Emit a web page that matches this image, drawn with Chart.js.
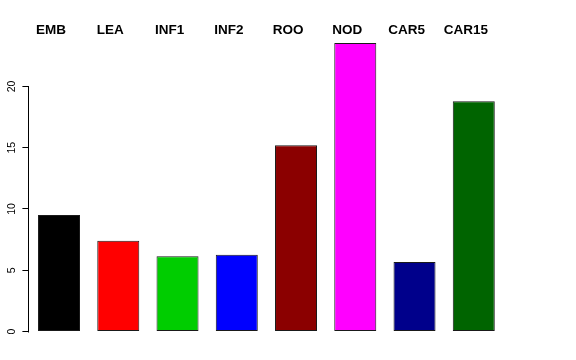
<!DOCTYPE html>
<html>
<head>
<meta charset="utf-8">
<script src="https://cdn.jsdelivr.net/npm/chart.js@4/dist/chart.umd.min.js"></script>
<style>
  html, body { margin: 0; padding: 0; background: #fff; }
  #wrap { width: 576px; height: 360px; }
</style>
</head>
<body>
<div id="wrap"><canvas id="c" width="576" height="360"></canvas></div>
<script>
const categories = ['EMB', 'LEA', 'INF1', 'INF2', 'ROO', 'NOD', 'CAR5', 'CAR15'];
const values = [9.5, 7.4, 6.15, 6.27, 15.2, 23.55, 5.67, 18.8];
const barColors = ['#000000', '#FF0000', '#00CD00', '#0000FF', '#8B0000', '#FF00FF', '#00008B', '#006400'];
const yTicks = [0, 5, 10, 15, 20];

const FONT = '"Liberation Sans", Arial, Helvetica, sans-serif';

const axisLine = {
  id: 'axisLine',
  afterDraw(chart) {
    const y = chart.scales.y;
    const ctx = chart.ctx;
    const x = Math.round(y.right) - 0.5;
    ctx.save();
    ctx.strokeStyle = '#000';
    ctx.lineWidth = 1;
    ctx.beginPath();
    ctx.moveTo(x, Math.round(y.getPixelForValue(yTicks[0])) + 0.5);
    ctx.lineTo(x, Math.round(y.getPixelForValue(yTicks[yTicks.length - 1])) + 0.5);
    ctx.stroke();
    ctx.restore();
  }
};

new Chart(document.getElementById('c'), {
  type: 'bar',
  data: {
    labels: categories,
    datasets: [{
      data: values,
      backgroundColor: barColors,
      borderColor: '#1a1a1a',
      borderWidth: 1,
      borderSkipped: false,
      categoryPercentage: 1,
      barPercentage: 0.709
    }]
  },
  options: {
    responsive: false,
    animation: false,
    devicePixelRatio: 1,
    layout: { padding: { left: 0, right: 72.6, top: 0, bottom: 28.5 } },
    plugins: { legend: { display: false }, tooltip: { enabled: false } },
    scales: {
      x: {
        position: 'top',
        offset: true,
        grid: { display: false, drawTicks: false },
        border: { display: false },
        ticks: {
          color: '#000',
          font: { family: FONT, size: 13.5, weight: 'bold' },
          labelOffset: -8,
          padding: -2,
          maxRotation: 0,
          minRotation: 0
        },
        afterFit(scale) { scale.height = 36; }
      },
      y: {
        min: 0,
        max: 24.12,
        afterBuildTicks(scale) { scale.ticks = yTicks.map(v => ({ value: v })); },
        grid: { drawOnChartArea: false, drawTicks: true, tickLength: 7, color: '#000', lineWidth: 1 },
        border: { display: false },
        ticks: {
          color: '#000',
          font: { family: FONT, size: 10.5 },
          minRotation: 90,
          maxRotation: 90,
          crossAlign: 'center',
          padding: 4.5
        },
        afterFit(scale) { scale.width = 29.4; }
      }
    }
  },
  plugins: [axisLine]
});
</script>
</body>
</html>
